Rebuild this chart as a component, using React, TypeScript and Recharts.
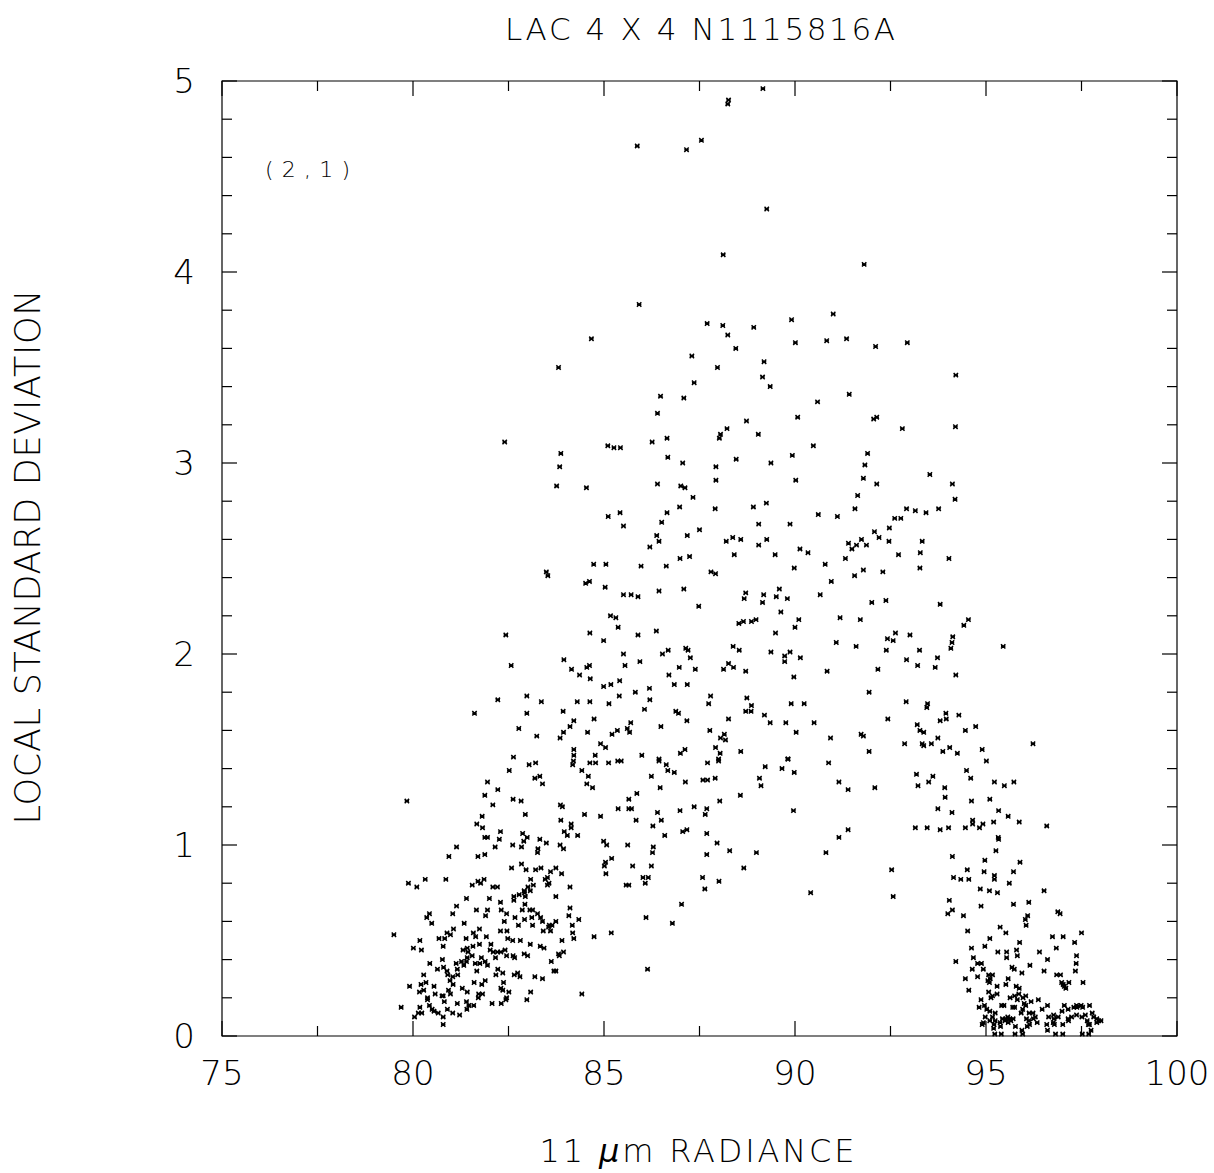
import { ScatterChart, Scatter, XAxis, YAxis, ReferenceArea } from "recharts";

// radiance (x) vs local std deviation (y)
const peakPoints = [
  [89.16, 4.96], [88.26, 4.9], [88.24, 4.88], [87.55, 4.69], [85.87, 4.66], [87.16, 4.64], [89.26, 4.33],
  [88.12, 4.09], [91.81, 4.04], [85.92, 3.83], [91.0, 3.78], [89.91, 3.75], [87.7, 3.73], [88.11, 3.72], [88.92, 3.71],
];

const upperLeftPoints = [
  [88.24, 3.67], [84.67, 3.65], [88.45, 3.6], [87.3, 3.56], [83.81, 3.5], [87.97, 3.5], [87.36, 3.42], [86.48, 3.35],
  [87.09, 3.34], [86.4, 3.26], [88.73, 3.22], [88.22, 3.18], [89.04, 3.15], [88.05, 3.15], [88.02, 3.13], [86.65, 3.13],
  [86.26, 3.11], [82.4, 3.11], [85.1, 3.09], [85.26, 3.08], [85.43, 3.08], [83.87, 3.05], [86.67, 3.03], [87.06, 3.0],
  [83.84, 2.98], [87.93, 2.98], [88.46, 3.02], [87.93, 2.91], [86.4, 2.89], [83.76, 2.88], [84.54, 2.87], [87.01, 2.88],
  [87.12, 2.87], [87.33, 2.82], [86.98, 2.77], [87.91, 2.76], [88.91, 2.77], [86.65, 2.74], [85.42, 2.74], [85.11, 2.72],
  [86.51, 2.69], [89.05, 2.68], [85.51, 2.67], [87.5, 2.65], [86.38, 2.62], [87.18, 2.62], [88.37, 2.61], [88.58, 2.6],
  [88.2, 2.59], [86.44, 2.59], [89.05, 2.57], [86.2, 2.56], [88.41, 2.52], [86.99, 2.5], [87.24, 2.51],
];

const upperRightPoints = [
  [90.01, 3.63], [90.83, 3.64], [91.35, 3.65], [92.11, 3.61], [92.94, 3.63], [89.19, 3.53], [89.15, 3.45], [89.35, 3.4],
  [94.21, 3.46], [91.42, 3.36], [90.59, 3.32], [90.07, 3.24], [92.14, 3.24], [92.06, 3.23], [92.81, 3.18], [94.2, 3.19],
  [90.48, 3.09], [89.93, 3.04], [91.9, 3.05], [89.37, 3.0], [91.83, 2.99], [91.79, 2.92], [90.02, 2.91], [92.14, 2.89],
  [93.53, 2.94], [94.12, 2.89], [94.19, 2.81], [91.64, 2.83], [89.25, 2.79], [91.57, 2.76], [90.61, 2.73], [91.11, 2.72],
  [89.87, 2.68], [92.92, 2.76], [93.15, 2.75], [93.43, 2.74], [93.76, 2.76], [92.61, 2.71], [92.77, 2.71], [92.47, 2.66],
  [92.08, 2.64], [92.2, 2.61], [89.26, 2.6], [91.4, 2.58], [91.74, 2.6], [91.61, 2.57], [91.87, 2.57], [91.49, 2.55],
  [92.46, 2.59], [93.33, 2.59], [90.13, 2.55], [90.34, 2.53], [89.48, 2.52], [92.71, 2.52], [93.28, 2.53], [91.32, 2.5],
  [94.03, 2.5],
];

const midLeftPoints = [
  [83.49, 2.43], [83.53, 2.41], [84.73, 2.47], [85.05, 2.47], [85.97, 2.46], [86.63, 2.46], [87.8, 2.43], [87.92, 2.42],
  [84.52, 2.37], [84.62, 2.38], [85.03, 2.35], [85.51, 2.31], [85.71, 2.31], [85.89, 2.3], [86.44, 2.33], [87.09, 2.34],
  [87.48, 2.25], [85.17, 2.2], [85.31, 2.19], [85.37, 2.14], [82.43, 2.1], [84.63, 2.11], [85.89, 2.1], [86.37, 2.12],
  [84.99, 2.07], [83.95, 1.97], [82.57, 1.94], [85.51, 2.0], [86.53, 2.0], [86.68, 2.02], [87.14, 2.03], [87.2, 2.02],
  [87.26, 1.98], [85.55, 1.94], [85.94, 1.96], [86.97, 1.93], [87.39, 1.92], [88.13, 1.92], [88.26, 1.95], [84.15, 1.92],
  [84.55, 1.93], [84.62, 1.94], [84.36, 1.89], [84.64, 1.87], [86.7, 1.89], [84.99, 1.83], [85.18, 1.84], [85.41, 1.86],
  [86.84, 1.84], [87.18, 1.84], [86.19, 1.82], [85.82, 1.8], [82.22, 1.76], [82.98, 1.78], [83.36, 1.75], [84.3, 1.75],
  [84.63, 1.75], [85.13, 1.74], [85.4, 1.78], [86.2, 1.76], [87.79, 1.78], [87.74, 1.74], [81.61, 1.69], [82.98, 1.69],
  [83.93, 1.7], [86.06, 1.71], [86.88, 1.7], [86.95, 1.69], [88.26, 1.66], [84.74, 1.66], [84.21, 1.65], [85.7, 1.64],
  [87.17, 1.65], [82.77, 1.61], [84.11, 1.62], [85.61, 1.61], [86.49, 1.62], [87.77, 1.6], [83.24, 1.57], [83.94, 1.59],
  [84.57, 1.59], [85.35, 1.6], [85.21, 1.58], [85.67, 1.59], [83.85, 1.56], [88.15, 1.58], [88.05, 1.56], [88.18, 1.55],
  [84.91, 1.53], [85.04, 1.51], [84.21, 1.5], [87.92, 1.51], [88.04, 1.48], [87.12, 1.5], [87.0, 1.48], [82.63, 1.46],
  [84.21, 1.47], [84.77, 1.47], [85.99, 1.47], [86.44, 1.45], [88.0, 1.45],
];

const midRightPoints = [
  [89.98, 2.45], [90.79, 2.47], [91.79, 2.44], [91.56, 2.41], [92.3, 2.43], [93.27, 2.45], [90.95, 2.38], [88.71, 2.32],
  [88.67, 2.29], [89.18, 2.31], [89.15, 2.27], [89.59, 2.34], [89.51, 2.3], [89.8, 2.29], [90.66, 2.31], [89.63, 2.22],
  [92.01, 2.27], [92.38, 2.28], [93.8, 2.26], [88.53, 2.16], [88.65, 2.17], [88.86, 2.17], [88.98, 2.18], [90.1, 2.18],
  [90.0, 2.14], [91.18, 2.19], [91.71, 2.18], [89.49, 2.11], [94.54, 2.18], [94.42, 2.15], [92.63, 2.11], [92.42, 2.08],
  [92.57, 2.07], [93.01, 2.1], [94.13, 2.09], [94.11, 2.06], [94.08, 2.03], [91.08, 2.06], [91.6, 2.04], [88.38, 2.04],
  [88.54, 2.02], [89.37, 2.01], [89.87, 2.01], [89.73, 1.99], [89.73, 1.96], [90.14, 1.98], [92.39, 2.02], [93.26, 2.02],
  [92.92, 1.97], [93.73, 1.98], [93.21, 1.94], [93.67, 1.93], [88.39, 1.93], [88.71, 1.91], [89.97, 1.88], [90.84, 1.91],
  [92.17, 1.92], [94.21, 1.89], [91.94, 1.8], [88.74, 1.77], [88.86, 1.73], [88.71, 1.7], [88.85, 1.7], [89.9, 1.74],
  [90.24, 1.74], [92.91, 1.75], [93.47, 1.74], [93.45, 1.72], [89.2, 1.68], [89.35, 1.64], [89.76, 1.64], [90.5, 1.64],
  [92.43, 1.66], [93.95, 1.69], [94.29, 1.68], [93.96, 1.66], [93.8, 1.65], [93.2, 1.63], [94.73, 1.62], [94.46, 1.6],
  [90.03, 1.59], [93.27, 1.6], [93.37, 1.59], [90.93, 1.56], [91.73, 1.58], [91.79, 1.57], [93.74, 1.56], [92.87, 1.53],
  [93.33, 1.53], [93.37, 1.52], [93.57, 1.53], [88.58, 1.49], [91.94, 1.49], [93.87, 1.49], [94.05, 1.51], [94.25, 1.48],
  [94.9, 1.5], [89.82, 1.45],
];

const lowLeftPoints = [
  [84.2, 1.44], [84.18, 1.42], [83.04, 1.42], [83.21, 1.43], [84.63, 1.43], [84.78, 1.43], [85.12, 1.43], [85.36, 1.44],
  [82.52, 1.39], [84.42, 1.39], [84.59, 1.36], [83.19, 1.35], [83.32, 1.36], [83.39, 1.32], [84.55, 1.32], [84.7, 1.3],
  [81.95, 1.33], [82.22, 1.29], [81.88, 1.26], [79.84, 1.23], [82.62, 1.24], [82.83, 1.23], [82.09, 1.21], [82.94, 1.16],
  [83.86, 1.21], [83.91, 1.2], [85.37, 1.19], [84.49, 1.16], [84.91, 1.15], [81.81, 1.15], [81.67, 1.11], [81.82, 1.09],
  [83.87, 1.13], [84.14, 1.11], [84.14, 1.09], [83.96, 1.07], [84.04, 1.05], [84.31, 1.05], [82.29, 1.07], [81.88, 1.04],
  [81.95, 1.04], [82.26, 1.03], [82.87, 1.06], [82.99, 1.04], [82.9, 1.02], [83.32, 1.03], [83.49, 1.01], [82.61, 1.0],
  [82.84, 0.99], [82.15, 0.99], [83.85, 1.0], [83.94, 0.98], [83.27, 0.98], [83.26, 0.96], [84.99, 1.02], [85.07, 1.0],
  [81.14, 0.99], [80.94, 0.94], [81.7, 0.94], [81.88, 0.95], [85.2, 0.93], [85.04, 0.91], [85.01, 0.89], [85.05, 0.85],
  [82.58, 0.88], [82.84, 0.9], [82.96, 0.87], [83.21, 0.87], [83.35, 0.88], [83.74, 0.88], [83.6, 0.86], [83.89, 0.85],
  [83.08, 0.82], [83.52, 0.83], [83.46, 0.82], [83.56, 0.8], [83.15, 0.79], [83.52, 0.79], [83.01, 0.78], [83.07, 0.76],
  [82.91, 0.76], [82.92, 0.75], [82.78, 0.74], [82.64, 0.73], [82.94, 0.73], [83.74, 0.73], [84.11, 0.78], [79.88, 0.8],
  [80.1, 0.78], [80.32, 0.82], [80.86, 0.82], [81.55, 0.79], [81.7, 0.81], [81.77, 0.8], [81.86, 0.82], [82.09, 0.78],
  [82.21, 0.78], [81.4, 0.72], [82.0, 0.72],
];

const leftCluster = [
  [82.64, 0.71], [82.93, 0.69], [81.14, 0.68], [82.29, 0.7], [81.66, 0.66], [81.95, 0.66], [81.9, 0.63], [82.31, 0.66],
  [82.45, 0.64], [82.86, 0.66], [83.06, 0.66], [83.13, 0.66], [80.43, 0.64], [80.36, 0.62], [80.49, 0.59], [81.04, 0.64],
  [82.67, 0.62], [82.92, 0.61], [83.11, 0.62], [83.26, 0.64], [83.34, 0.62], [83.39, 0.6], [84.11, 0.67], [84.08, 0.63],
  [84.34, 0.61], [81.34, 0.59], [81.06, 0.56], [81.74, 0.56], [82.39, 0.6], [82.76, 0.58], [83.13, 0.58], [83.74, 0.6],
  [83.57, 0.58], [83.64, 0.58], [83.55, 0.57], [83.6, 0.55], [83.41, 0.55], [84.17, 0.58], [84.18, 0.54], [84.21, 0.51],
  [79.5, 0.53], [80.89, 0.54], [80.98, 0.53], [80.83, 0.51], [80.68, 0.51], [80.18, 0.5], [81.58, 0.54], [81.64, 0.52],
  [81.39, 0.51], [81.92, 0.52], [82.29, 0.55], [82.46, 0.55], [82.48, 0.51], [82.61, 0.5], [82.81, 0.5], [83.07, 0.48],
  [83.9, 0.5], [84.74, 0.52], [80.01, 0.46], [80.22, 0.45], [80.79, 0.47], [81.42, 0.46], [81.74, 0.48], [81.57, 0.47],
  [81.31, 0.45], [81.44, 0.44], [82.04, 0.48], [82.02, 0.45], [82.1, 0.44], [82.21, 0.44], [82.3, 0.44], [82.41, 0.45],
  [82.16, 0.41], [82.45, 0.42], [82.62, 0.42], [82.66, 0.41], [82.91, 0.43], [83.0, 0.42], [83.33, 0.47], [83.43, 0.46],
  [83.81, 0.43], [83.83, 0.42], [83.94, 0.44], [83.62, 0.39], [80.44, 0.38], [80.77, 0.4], [81.13, 0.38], [81.27, 0.39],
  [81.42, 0.41], [81.4, 0.39], [81.55, 0.42], [81.79, 0.41], [81.89, 0.39], [81.33, 0.37], [81.63, 0.38], [81.75, 0.38],
  [81.95, 0.37], [80.64, 0.35], [80.8, 0.36], [80.89, 0.34], [81.16, 0.35], [81.67, 0.34], [82.22, 0.35], [82.35, 0.33],
  [82.17, 0.32], [82.65, 0.32], [82.74, 0.33], [82.8, 0.31], [83.19, 0.31], [83.39, 0.3], [83.69, 0.34], [83.74, 0.34],
  [80.28, 0.32], [80.91, 0.32], [80.97, 0.29], [81.04, 0.31], [81.17, 0.32], [81.89, 0.29], [81.8, 0.27], [81.6, 0.28],
  [82.37, 0.28], [80.34, 0.28], [80.21, 0.27], [79.91, 0.26], [80.55, 0.26], [81.05, 0.27], [81.29, 0.25], [80.28, 0.24],
  [80.17, 0.23], [80.93, 0.24], [80.76, 0.21], [80.98, 0.22], [81.42, 0.23], [81.72, 0.22], [81.82, 0.22], [82.3, 0.25],
  [82.35, 0.24], [82.51, 0.23], [83.08, 0.23], [80.38, 0.2], [80.58, 0.22], [80.79, 0.21], [81.71, 0.2], [82.45, 0.2],
  [82.43, 0.19], [82.98, 0.19], [84.42, 0.22], [80.38, 0.19], [80.82, 0.18], [81.16, 0.17], [81.4, 0.18], [81.46, 0.16],
  [81.59, 0.16], [82.07, 0.17], [82.31, 0.17], [81.41, 0.14], [80.18, 0.15], [80.43, 0.16], [80.5, 0.14], [79.69, 0.15],
  [80.14, 0.12], [80.23, 0.12], [80.55, 0.13], [80.66, 0.12], [80.9, 0.14], [81.04, 0.12], [81.22, 0.11], [80.79, 0.1],
  [80.04, 0.1], [80.79, 0.06],
];

const lowMidPoints = [
  [85.45, 1.44], [86.44, 1.44], [86.63, 1.42], [86.67, 1.39], [86.84, 1.38], [87.71, 1.43], [88.0, 1.44], [86.24, 1.36],
  [86.47, 1.3], [87.13, 1.33], [87.59, 1.34], [87.71, 1.34], [87.91, 1.35], [85.86, 1.27], [85.65, 1.24], [85.65, 1.19],
  [85.72, 1.19], [88.03, 1.23], [88.57, 1.26], [89.22, 1.41], [89.07, 1.35], [89.11, 1.31], [89.66, 1.4], [89.81, 1.45],
  [89.98, 1.38], [90.88, 1.43], [91.15, 1.33], [91.39, 1.29], [92.09, 1.3], [93.18, 1.37], [93.22, 1.31], [93.15, 1.09],
  [89.96, 1.18], [91.39, 1.08], [91.15, 1.04], [90.81, 0.96], [92.53, 0.87], [92.57, 0.73], [90.41, 0.75], [86.99, 1.18],
  [87.36, 1.2], [87.69, 1.19], [87.65, 1.16], [86.4, 1.17], [86.5, 1.13], [86.28, 1.1], [85.84, 1.13], [86.59, 1.05],
  [87.06, 1.07], [87.17, 1.08], [87.69, 1.06], [87.96, 1.01], [88.29, 0.97], [88.99, 0.96], [88.66, 0.88], [87.69, 0.95],
  [86.29, 0.99], [86.27, 0.96], [85.62, 1.0], [85.75, 0.89], [86.24, 0.89], [86.02, 0.83], [86.16, 0.83], [86.08, 0.8],
  [85.58, 0.79], [85.65, 0.79], [87.58, 0.83], [88.01, 0.81], [87.64, 0.77], [87.03, 0.69], [86.1, 0.62], [86.79, 0.59],
  [85.19, 0.54], [86.14, 0.35],
];

const rightSlope = [
  [95.45, 2.04], [96.23, 1.53], [95.01, 1.44], [94.49, 1.39], [94.6, 1.35], [93.61, 1.36], [93.5, 1.33], [93.92, 1.3],
  [93.93, 1.25], [94.62, 1.23], [95.1, 1.24], [95.22, 1.33], [95.48, 1.31], [95.73, 1.33], [93.74, 1.19], [94.11, 1.17],
  [95.33, 1.18], [95.58, 1.15], [95.87, 1.12], [96.59, 1.1], [93.46, 1.09], [93.8, 1.08], [94.02, 1.09], [94.46, 1.09],
  [94.65, 1.13], [94.65, 1.11], [94.83, 1.09], [94.92, 1.11], [95.2, 1.12], [95.32, 1.04], [95.33, 1.03], [95.26, 0.97],
  [94.12, 0.94], [94.97, 0.92], [95.89, 0.91], [94.51, 0.87], [94.95, 0.86], [95.22, 0.84], [95.72, 0.86], [94.15, 0.83],
  [94.34, 0.82], [94.55, 0.82],
];

const rightCluster = [
  [95.22, 0.82], [95.61, 0.8], [94.85, 0.77], [95.09, 0.76], [95.3, 0.75], [96.52, 0.76], [94.04, 0.71], [94.0, 0.64],
  [94.12, 0.66], [94.87, 0.68], [95.72, 0.69], [96.12, 0.7], [94.41, 0.63], [96.88, 0.65], [96.94, 0.64], [96.03, 0.61],
  [96.05, 0.58], [96.09, 0.63], [94.52, 0.55], [95.37, 0.57], [95.52, 0.54], [97.5, 0.54], [96.74, 0.52], [97.02, 0.52],
  [95.1, 0.51], [95.88, 0.49], [97.32, 0.49], [94.97, 0.47], [94.62, 0.46], [96.84, 0.46], [95.31, 0.44], [95.54, 0.44],
  [95.8, 0.45], [96.4, 0.44], [95.54, 0.41], [95.82, 0.42], [94.21, 0.39], [94.67, 0.41], [96.61, 0.4], [97.37, 0.42],
  [97.36, 0.38], [94.78, 0.38], [94.88, 0.38], [94.64, 0.35], [94.93, 0.35], [95.68, 0.36], [95.74, 0.35], [96.15, 0.37],
  [95.94, 0.33], [96.52, 0.34], [97.34, 0.34], [94.46, 0.3], [94.78, 0.31], [95.07, 0.32], [95.11, 0.3], [95.17, 0.32],
  [95.05, 0.29], [95.58, 0.3], [95.52, 0.27], [95.29, 0.26], [94.55, 0.24], [95.09, 0.28], [95.79, 0.26], [95.87, 0.25],
  [96.85, 0.32], [96.95, 0.32], [96.98, 0.28], [97.02, 0.27], [97.05, 0.26], [97.17, 0.28], [97.09, 0.25], [97.54, 0.28],
  [95.07, 0.23], [95.29, 0.22], [95.17, 0.21], [95.13, 0.2], [95.63, 0.2], [95.75, 0.21], [95.82, 0.19], [95.86, 0.22],
  [95.97, 0.2], [96.04, 0.21], [96.18, 0.18], [96.37, 0.19], [94.87, 0.19], [94.82, 0.15], [94.96, 0.16], [95.02, 0.14],
  [95.41, 0.16], [95.47, 0.16], [95.7, 0.15], [95.75, 0.15], [96.0, 0.17], [96.04, 0.16], [96.47, 0.14], [96.61, 0.16],
  [97.15, 0.14], [97.05, 0.16], [97.3, 0.15], [97.38, 0.15], [96.99, 0.13], [97.37, 0.16], [97.49, 0.16], [97.53, 0.15],
  [97.71, 0.16], [97.78, 0.12], [97.9, 0.09], [97.95, 0.08], [98.01, 0.08], [97.82, 0.1], [97.6, 0.11], [97.51, 0.1],
  [97.37, 0.11], [97.24, 0.1], [97.15, 0.09], [96.89, 0.1], [96.64, 0.1], [96.77, 0.11], [96.78, 0.09], [96.59, 0.06],
  [96.76, 0.07], [96.79, 0.06], [97.01, 0.06], [97.16, 0.08], [97.65, 0.08], [97.68, 0.06], [97.71, 0.06], [97.9, 0.07],
  [97.75, 0.03], [97.69, 0.01], [97.52, 0.01], [94.98, 0.1], [94.93, 0.07], [94.9, 0.06], [95.17, 0.1], [95.1, 0.08],
  [95.24, 0.08], [95.37, 0.07], [95.43, 0.09], [95.52, 0.09], [95.57, 0.1], [95.62, 0.09], [95.65, 0.08], [95.58, 0.07],
  [95.5, 0.08], [95.71, 0.09], [95.21, 0.06], [95.38, 0.05], [95.77, 0.05], [95.2, 0.04], [95.23, 0.01], [95.4, 0.01],
  [95.76, 0.01], [95.96, 0.01], [95.94, 0.03], [96.06, 0.09], [96.12, 0.08], [96.14, 0.06], [96.08, 0.05], [96.24, 0.09],
  [96.29, 0.1], [96.34, 0.07], [96.61, 0.03], [96.82, 0.01], [97.01, 0.01], [95.92, 0.12], [95.96, 0.14], [96.13, 0.12],
  [96.23, 0.12], [95.1, 0.13], [95.24, 0.12],
];

const xTicks = [75, 77.5, 80, 82.5, 85, 87.5, 90, 92.5, 95, 97.5, 100];
const yTicks = [
  0, 0.2, 0.4, 0.6, 0.8, 1, 1.2, 1.4, 1.6, 1.8, 2, 2.2, 2.4, 2.6, 2.8, 3, 3.2, 3.4, 3.6, 3.8, 4, 4.2, 4.4, 4.6, 4.8, 5,
];

const allPoints = [
  ...peakPoints, ...upperLeftPoints, ...upperRightPoints, ...midLeftPoints, ...midRightPoints,
  ...lowLeftPoints, ...leftCluster, ...lowMidPoints, ...rightSlope, ...rightCluster,
].map(([x, y]) => ({ x, y }));

const W = 1214;
const H = 1173;
const LEFT = 222;
const RIGHT = 1177;
const TOP = 81;
const BOTTOM = 1036;
const FONT = "'DejaVu Sans', sans-serif";

const isMajor = (v: number, step: number) => Math.abs(v / step - Math.round(v / step)) < 1e-6;

function XTick(props: any) {
  const { x, payload } = props;
  const major = isMajor(payload.value, 5);
  const len = major ? 15 : 10;
  return (
    <g>
      <line x1={x} x2={x} y1={BOTTOM} y2={BOTTOM - len} stroke="#000" strokeWidth={1.2} />
      <line x1={x} x2={x} y1={TOP} y2={TOP + len} stroke="#000" strokeWidth={1.2} />
      {major && (
        <text x={x} y={BOTTOM + 49} textAnchor="middle" fontSize={34} fontFamily={FONT} fontWeight={300} fill="#000">
          {payload.value}
        </text>
      )}
    </g>
  );
}

function YTick(props: any) {
  const { y, payload } = props;
  const major = isMajor(payload.value, 1);
  const len = major ? 15 : 10;
  return (
    <g>
      <line x1={LEFT} x2={LEFT + len} y1={y} y2={y} stroke="#000" strokeWidth={1.2} />
      <line x1={RIGHT} x2={RIGHT - len} y1={y} y2={y} stroke="#000" strokeWidth={1.2} />
      {major && (
        <text x={LEFT - 27} y={y + 12} textAnchor="end" fontSize={34} fontFamily={FONT} fontWeight={300} fill="#000">
          {payload.value}
        </text>
      )}
    </g>
  );
}

function Cross(props: any) {
  const { cx, cy } = props;
  if (cx == null || cy == null) return null;
  const r = 2.2;
  return (
    <path
      d={`M${cx - r},${cy - r}L${cx + r},${cy + r}M${cx - r},${cy + r}L${cx + r},${cy - r}M${cx - r},${cy}L${cx + r},${cy}`}
      stroke="#000"
      strokeWidth={1.5}
      fill="none"
    />
  );
}

export default function App() {
  return (
    <div style={{ position: "absolute", left: 0, top: 0, width: W, height: H, background: "#fff" }}>
      <ScatterChart width={W} height={H} margin={{ top: TOP, right: W - RIGHT, bottom: 37, left: LEFT - 100 }}>
        <XAxis
          type="number"
          dataKey="x"
          domain={[75, 100]}
          ticks={xTicks}
          interval={0}
          height={100}
          axisLine={false}
          tickLine={false}
          tick={(p: any) => <XTick {...p} />}
        />
        <YAxis
          type="number"
          dataKey="y"
          domain={[0, 5]}
          ticks={yTicks}
          interval={0}
          width={100}
          axisLine={false}
          tickLine={false}
          tick={(p: any) => <YTick {...p} />}
        />
        <ReferenceArea x1={75} x2={100} y1={0} y2={5} fill="none" fillOpacity={0} stroke="#000" strokeWidth={1.2} />
        <Scatter data={allPoints} shape={(p: any) => <Cross {...p} />} isAnimationActive={false} />
      </ScatterChart>
      <svg width={W} height={H} style={{ position: "absolute", left: 0, top: 0, pointerEvents: "none" }}>
        <text x={700} y={40} textAnchor="middle" fontSize={31} fontFamily={FONT} fontWeight={300} textLength={390} lengthAdjust="spacing">
          LAC 4 X 4 N1115816A
        </text>
        <text x={265} y={177} fontSize={22} fontFamily={FONT} fontWeight={300} textLength={85} lengthAdjust="spacing">
          (2,1)
        </text>
        <text
          x={40}
          y={557}
          transform="rotate(-90 40 557)"
          textAnchor="middle"
          fontSize={35}
          fontFamily={FONT}
          fontWeight={300}
          textLength={535}
          lengthAdjust="spacing"
        >
          LOCAL STANDARD DEVIATION
        </text>
        <text x={697} y={1162} textAnchor="middle" fontSize={32} fontFamily={FONT} fontWeight={300} textLength={315} lengthAdjust="spacing">
          11 <tspan fontStyle="italic">μ</tspan>m RADIANCE
        </text>
      </svg>
    </div>
  );
}
